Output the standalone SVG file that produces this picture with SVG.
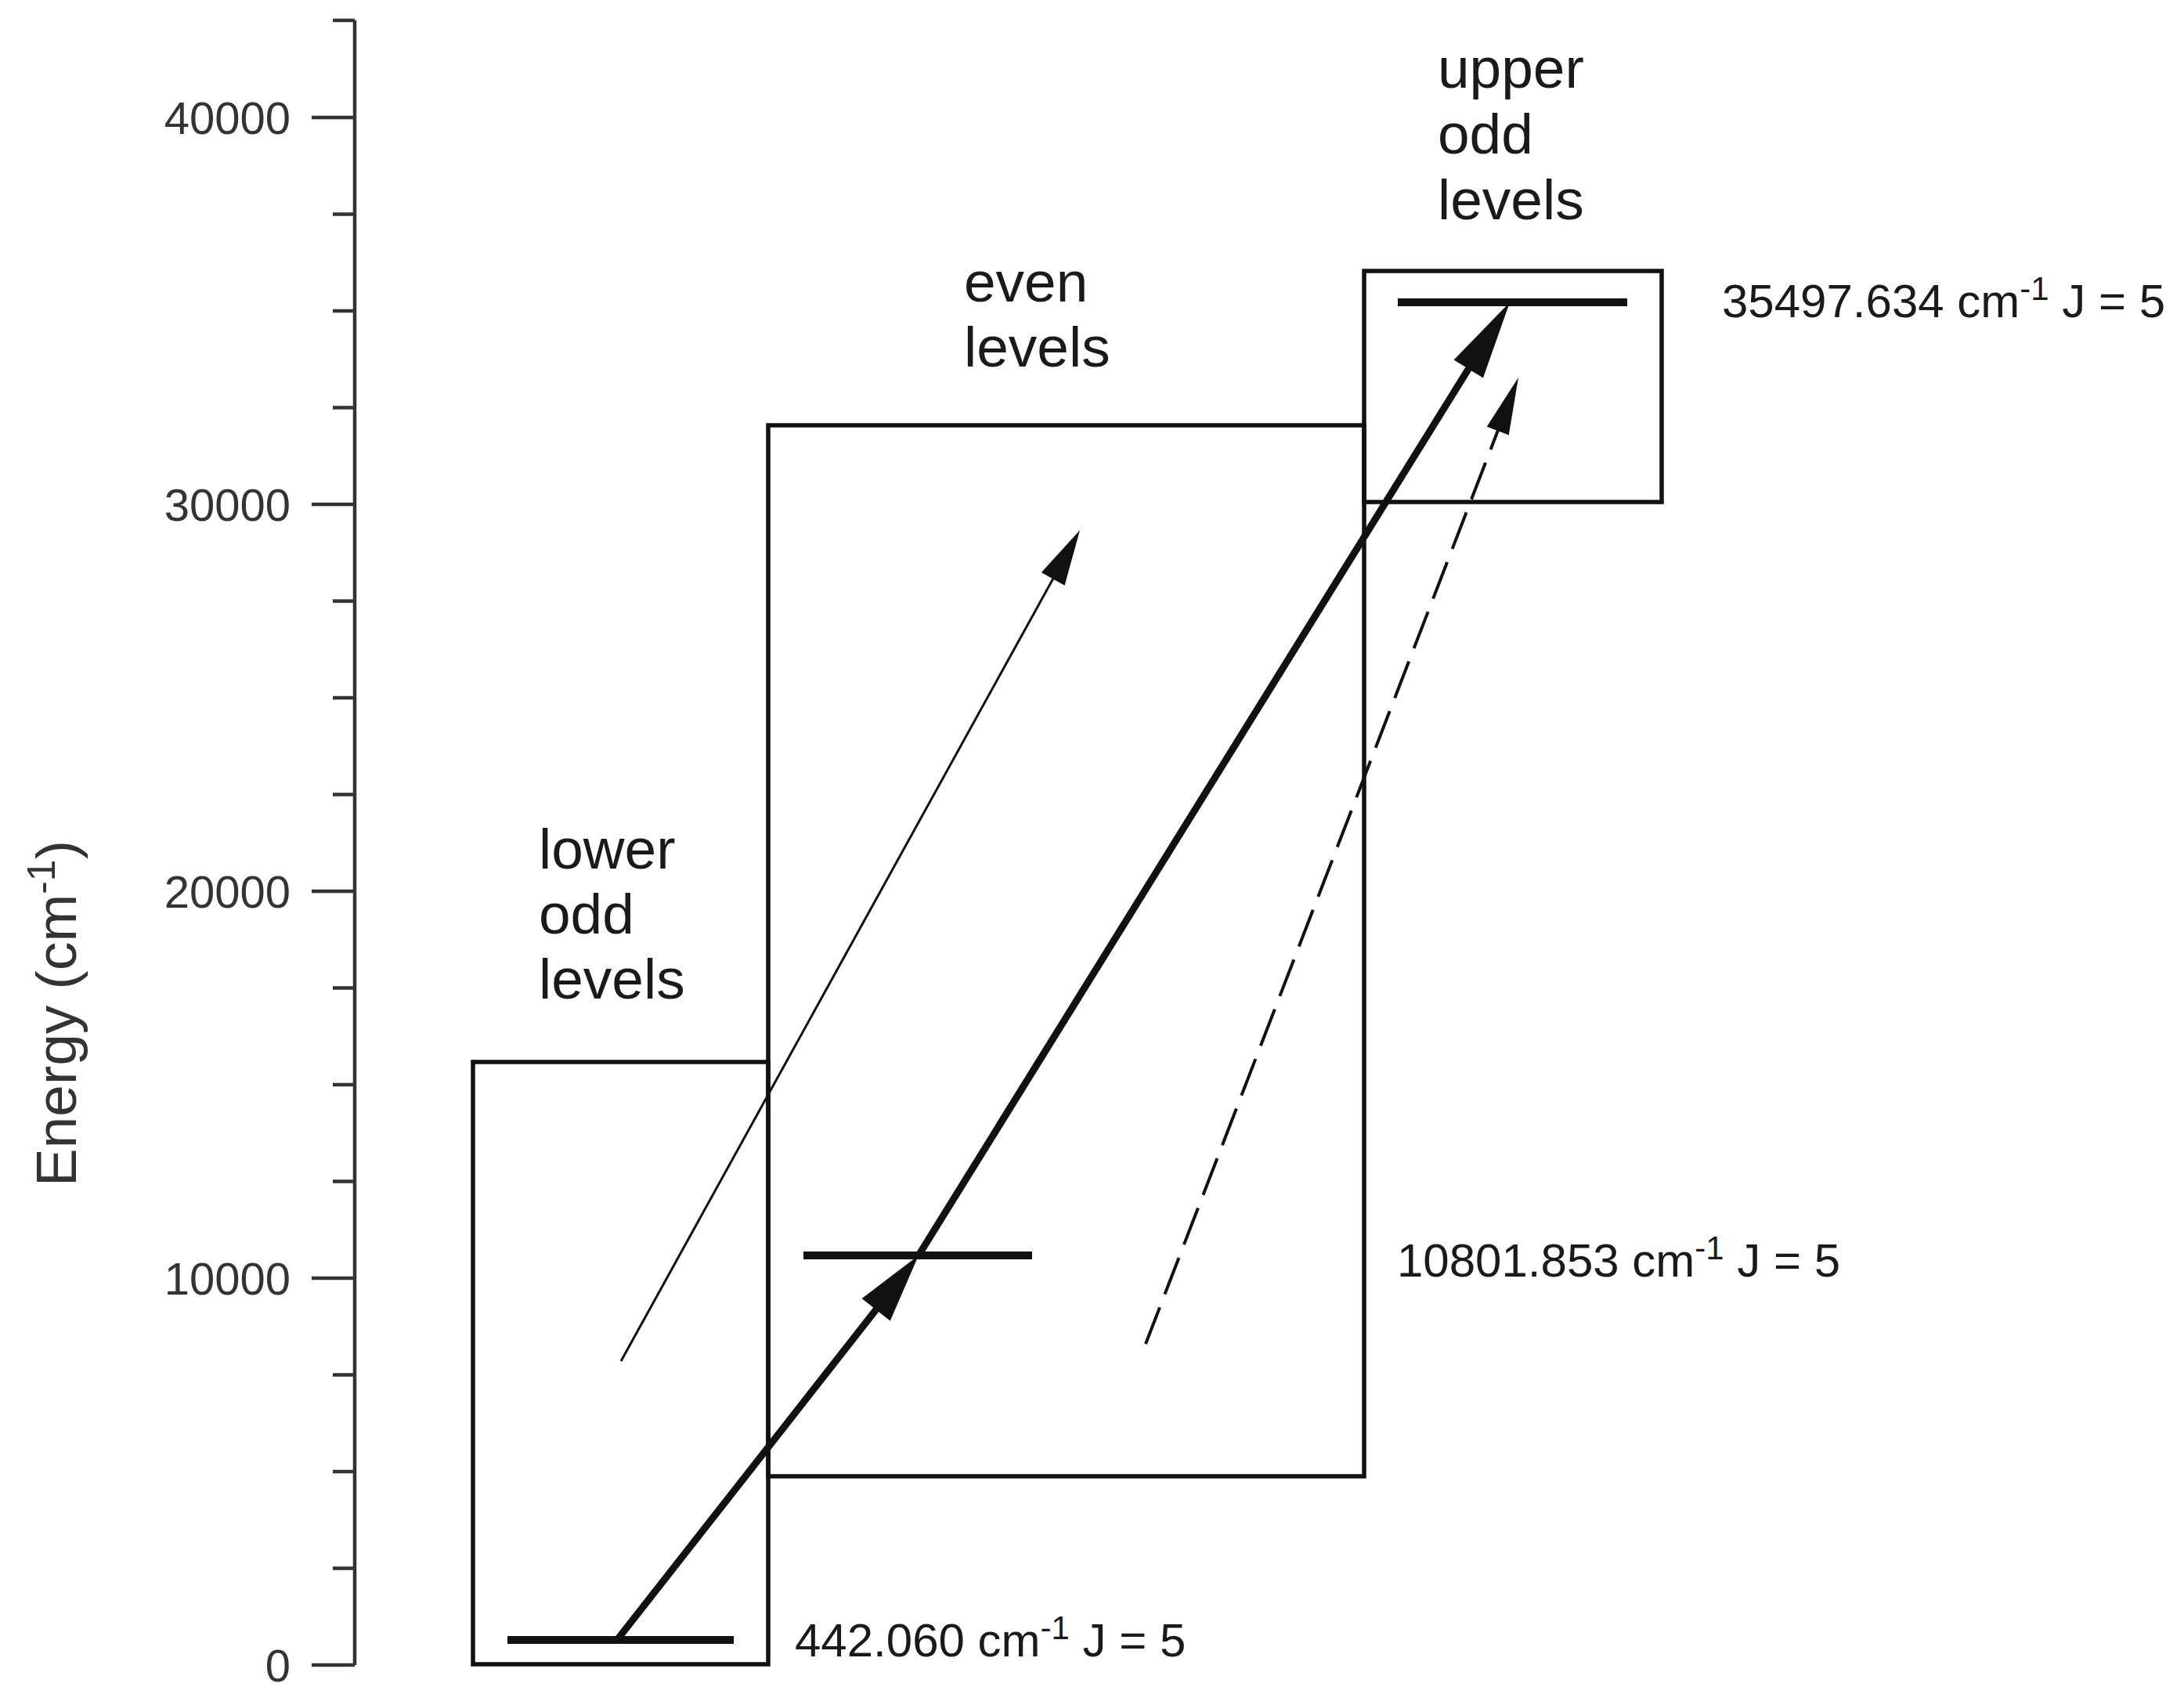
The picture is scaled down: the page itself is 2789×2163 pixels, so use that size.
<svg xmlns="http://www.w3.org/2000/svg" width="2789" height="2163" viewBox="0 0 2789 2163">
<style>
  .bg { fill: #ffffff; }
  .axis { stroke: #333333; stroke-width: 4.5; fill: none; }
  .tick { stroke: #333333; stroke-width: 4.5; }
  .ticklbl { font-family: "Liberation Sans", Arial, sans-serif; font-size: 58px; fill: #333333; text-anchor: end; }
  .axlbl { font-family: "Liberation Sans", Arial, sans-serif; font-size: 73px; fill: #333333; text-anchor: middle; }
  .box { fill: none; stroke: #111111; stroke-width: 5.5; }
  .region { font-family: "Liberation Sans", Arial, sans-serif; font-size: 73px; fill: #1a1a1a; }
  .level { stroke: #111111; stroke-width: 10; }
  .lvllbl { font-family: "Liberation Sans", Arial, sans-serif; font-size: 60px; fill: #1a1a1a; }
  .thick { stroke: #111111; stroke-width: 9; fill: none; }
  .thin { stroke: #111111; stroke-width: 3; fill: none; }
  .dashed { stroke: #111111; stroke-width: 4; fill: none; stroke-dasharray: 50 18; }
  .head { fill: #111111; stroke: none; }
</style>
<defs>
  <marker id="headMid" markerUnits="userSpaceOnUse" orient="auto" refX="0" refY="0" markerWidth="200" markerHeight="200" viewBox="-100 -100 200 200" overflow="visible">
    <path class="head" d="M40,0 L-48,-23 L-48,23 Z"/>
  </marker>
  <marker id="headEnd" markerUnits="userSpaceOnUse" orient="auto" refX="0" refY="0" markerWidth="200" markerHeight="200" viewBox="-100 -100 200 200" overflow="visible">
    <path class="head" d="M40,0 L-60,-22 L-60,22 Z"/>
  </marker>
  <marker id="headThin" markerUnits="userSpaceOnUse" orient="auto" refX="0" refY="0" markerWidth="200" markerHeight="200" viewBox="-100 -100 200 200" overflow="visible">
    <path class="head" d="M30,0 L-41,-17 L-41,17 Z"/>
  </marker>
  <marker id="headDash" markerUnits="userSpaceOnUse" orient="auto" refX="0" refY="0" markerWidth="200" markerHeight="200" viewBox="-100 -100 200 200" overflow="visible">
    <path class="head" d="M30,0 L-43,-15 L-43,15 Z"/>
  </marker>
</defs>
<rect class="bg" x="0" y="0" width="2789" height="2163"/>

<g id="axis">
  <line class="axis" x1="453" y1="26" x2="453" y2="2126"/>
  <g id="ticks">
    <line class="tick" x1="425" y1="26" x2="453" y2="26"/>
    <line class="tick" x1="398" y1="150" x2="453" y2="150"/>
    <line class="tick" x1="425" y1="273.5" x2="453" y2="273.5"/>
    <line class="tick" x1="425" y1="397" x2="453" y2="397"/>
    <line class="tick" x1="425" y1="520.5" x2="453" y2="520.5"/>
    <line class="tick" x1="398" y1="644" x2="453" y2="644"/>
    <line class="tick" x1="425" y1="767.5" x2="453" y2="767.5"/>
    <line class="tick" x1="425" y1="891" x2="453" y2="891"/>
    <line class="tick" x1="425" y1="1014.5" x2="453" y2="1014.5"/>
    <line class="tick" x1="398" y1="1138" x2="453" y2="1138"/>
    <line class="tick" x1="425" y1="1261.5" x2="453" y2="1261.5"/>
    <line class="tick" x1="425" y1="1385" x2="453" y2="1385"/>
    <line class="tick" x1="425" y1="1508.5" x2="453" y2="1508.5"/>
    <line class="tick" x1="398" y1="1632" x2="453" y2="1632"/>
    <line class="tick" x1="425" y1="1755.5" x2="453" y2="1755.5"/>
    <line class="tick" x1="425" y1="1879" x2="453" y2="1879"/>
    <line class="tick" x1="425" y1="2002.5" x2="453" y2="2002.5"/>
    <line class="tick" x1="398" y1="2126" x2="453" y2="2126"/>
  </g>
  <text class="ticklbl" x="371" y="171">40000</text>
  <text class="ticklbl" x="371" y="665">30000</text>
  <text class="ticklbl" x="371" y="1159">20000</text>
  <text class="ticklbl" x="371" y="1653">10000</text>
  <text class="ticklbl" x="371" y="2147">0</text>
  <text class="axlbl" transform="translate(97,1294) rotate(-90)">Energy (cm<tspan dy="-27" font-size="50">-1</tspan><tspan dy="27">)</tspan></text>
</g>

<g id="lower-odd">
  <rect class="box" x="604" y="1356" width="377" height="769"/>
  <text class="region" x="688" y="1109">lower</text>
  <text class="region" x="688" y="1192">odd</text>
  <text class="region" x="688" y="1275">levels</text>
</g>

<g id="even">
  <rect class="box" x="981" y="543" width="761" height="1342"/>
  <text class="region" x="1231" y="385">even</text>
  <text class="region" x="1231" y="468">levels</text>
</g>

<g id="upper-odd">
  <rect class="box" x="1742" y="346" width="380" height="295"/>
  <text class="region" x="1836" y="112">upper</text>
  <text class="region" x="1836" y="196">odd</text>
  <text class="region" x="1836" y="280">levels</text>
</g>

<g id="level-442">
  <line class="level" x1="648" y1="2094" x2="937" y2="2094"/>
  <text class="lvllbl" x="1015" y="2115">442.060 cm<tspan dy="-22" font-size="42">-1</tspan><tspan dy="22"> J = 5</tspan></text>
</g>

<g id="level-10801">
  <line class="level" x1="1026" y1="1603" x2="1318" y2="1603"/>
  <text class="lvllbl" x="1784" y="1630">10801.853 cm<tspan dy="-22" font-size="42">-1</tspan><tspan dy="22"> J = 5</tspan></text>
</g>

<g id="level-35497">
  <line class="level" x1="1785" y1="386" x2="2078" y2="386"/>
  <text class="lvllbl" x="2199" y="405">35497.634 cm<tspan dy="-22" font-size="42">-1</tspan><tspan dy="22"> J = 5</tspan></text>
</g>

<g id="connectors">
  <line class="thick" x1="788" y1="2094" x2="1148.3" y2="1634.5" marker-end="url(#headMid)"/>
  <line class="thick" x1="1173" y1="1603" x2="1906.9" y2="420" marker-end="url(#headEnd)"/>
  <line class="thin" x1="793" y1="1738" x2="1364.5" y2="703.3" marker-end="url(#headThin)"/>
  <line class="dashed" x1="1463" y1="1716" x2="1928.2" y2="510" marker-end="url(#headDash)"/>
</g>
</svg>
